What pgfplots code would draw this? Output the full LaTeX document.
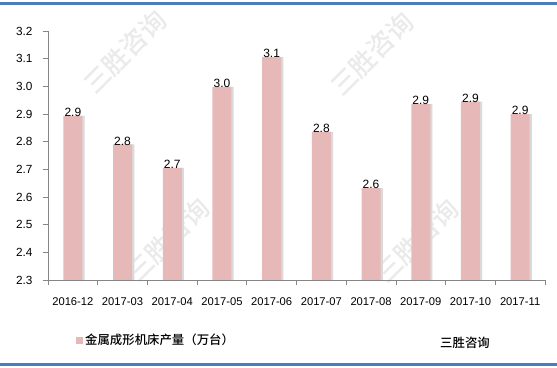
\documentclass[border=0pt]{standalone}
\usepackage{pgfplots}
\pgfplotsset{compat=1.18}
\usepackage{fontspec}
\setmainfont{Liberation Sans}
\newfontfamily\cjk{Noto Sans CJK SC Medium}
\definecolor{barpink}{RGB}{230,185,184}
\definecolor{barshadow}{RGB}{218,218,218}
\definecolor{axgray}{RGB}{134,134,134}
\definecolor{frameblue}{RGB}{74,126,187}
\definecolor{wm}{RGB}{234,234,234}
\begin{document}
\begin{tikzpicture}
\path[use as bounding box] (-48bp,-88bp) rectangle (509bp,280bp);
\fill[white] (-48bp,-88bp) rectangle (509bp,280bp);
% watermark
\foreach \px/\py in {77/228, 324/226, 120/40, 369/39}{
  \node[rotate=45, text=wm, font=\cjk\fontsize{26bp}{28bp}\selectfont] at (\px bp,\py bp) {三胜咨询};
}
\begin{axis}[
  scale only axis, width=497bp, height=249bp,
  xmin=0, xmax=10, ymin=2.3, ymax=3.2,
  axis lines=left,
  axis line style={-, draw=axgray, line width=0.8bp},
  tick style={draw=axgray, line width=0.8bp},
  tick align=outside,
  major tick length=5bp,
  xtick={0,1,...,10},
  xticklabels={2016-12,2017-03,2017-04,2017-05,2017-06,2017-07,2017-08,2017-09,2017-10,2017-11,{}},
  x tick label style={xshift=24.85bp, yshift=-9bp, font=\fontsize{11.2bp}{13bp}\selectfont},
  ytick={2.3,2.4,...,3.21},
  y tick label style={xshift=-7bp, font=\fontsize{11.8bp}{13bp}\selectfont, /pgf/number format/.cd, fixed, fixed zerofill, precision=1, assume math mode=true},
  ybar, bar width=19bp,
  legend style={draw=none, fill=none, at={(axis description cs:0.0563,-0.241)}, anchor=west, inner sep=0pt,
    font=\cjk\fontsize{12.4bp}{14bp}\selectfont, legend cell align=left},
  legend image code/.code={\fill[barpink] (0bp,-3.5bp) rectangle (7bp,3.5bp);},
]
\addplot[fill=barshadow, draw=none, bar shift=2.2bp, forget plot] coordinates {
 (0.5,2.893) (1.5,2.790) (2.5,2.705) (3.5,2.998) (4.5,3.106)
 (5.5,2.835) (6.5,2.632) (7.5,2.936) (8.5,2.945) (9.5,2.900)};
\addplot[fill=barpink, draw=none, bar shift=0pt,
  nodes near coords={\pgfmathprintnumber[fixed,fixed zerofill,precision=1,assume math mode=true]{\pgfplotspointmeta}},
  every node near coord/.append style={anchor=south, inner sep=0.5bp, yshift=-1.5bp, text=black, font=\fontsize{12bp}{13bp}\selectfont}]
 coordinates {
 (0.5,2.893) (1.5,2.790) (2.5,2.705) (3.5,2.998) (4.5,3.106)
 (5.5,2.835) (6.5,2.632) (7.5,2.936) (8.5,2.945) (9.5,2.900)};
\addlegendentry{金属成形机床产量（万台）}
\end{axis}
\node[font=\cjk\fontsize{12.4bp}{14bp}\selectfont] at (417bp,-63bp) {三胜咨询};
\draw[frameblue, line width=2.5bp] (-48bp,276.7bp) -- (509bp,276.7bp);
\draw[frameblue, line width=2.5bp] (-48bp,-84.5bp) -- (509bp,-84.5bp);
\end{tikzpicture}
\end{document}
